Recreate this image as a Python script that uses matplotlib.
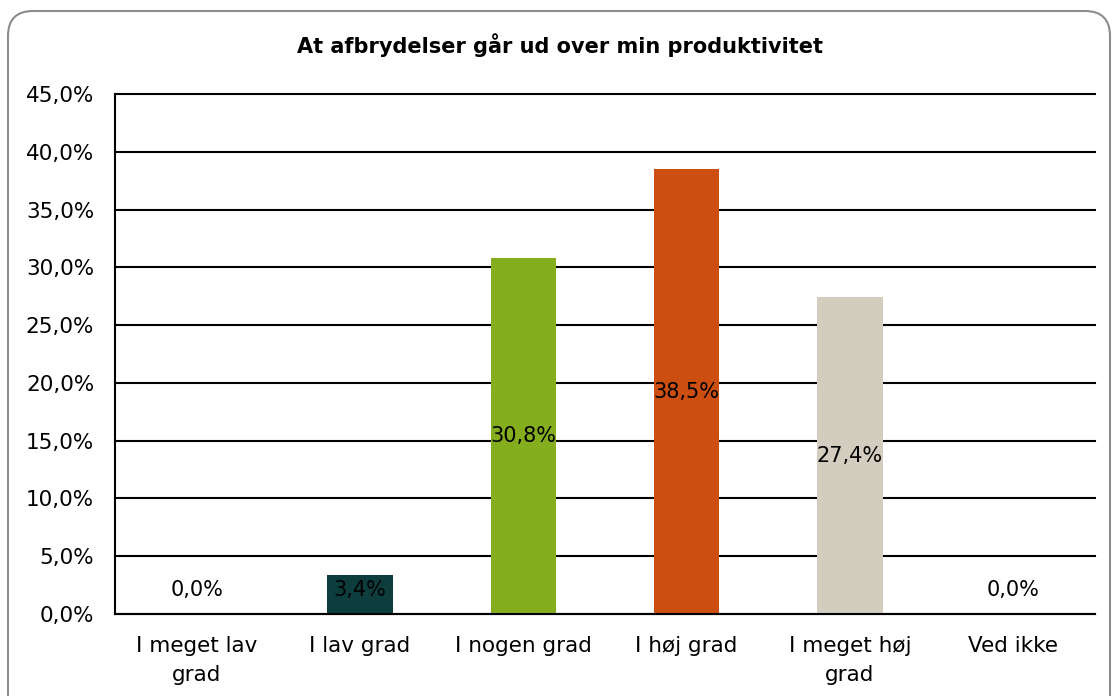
import matplotlib.pyplot as plt
from matplotlib.patches import FancyBboxPatch

categories = ['I meget lav\ngrad', 'I lav grad', 'I nogen grad', 'I høj grad',
              'I meget høj\ngrad', 'Ved ikke']
values = [0.0, 3.4, 30.8, 38.5, 27.4, 0.0]
labels = ['0,0%', '3,4%', '30,8%', '38,5%', '27,4%', '0,0%']
colors = ['#FFFFFF', '#0D3D3D', '#84AE1E', '#CC4E11', '#D3CDC0', '#FFFFFF']
yticks = [0, 5, 10, 15, 20, 25, 30, 35, 40, 45]
ytick_labels = ['0,0%', '5,0%', '10,0%', '15,0%', '20,0%', '25,0%',
                '30,0%', '35,0%', '40,0%', '45,0%']
title = 'At afbrydelser går ud over min produktivitet'

plt.rcParams['font.family'] = ['DejaVu Sans']

fig = plt.figure(figsize=(11.13, 6.96), dpi=100)

# rounded frame around the chart
frame = FancyBboxPatch((0.08, -0.3), 11.02, 7.15,
                       boxstyle='round,pad=0,rounding_size=0.25',
                       transform=fig.dpi_scale_trans,
                       facecolor='white', edgecolor='#8c8c8c', linewidth=1.5,
                       zorder=-5)
fig.patches.append(frame)

ax = fig.add_axes([115 / 1113, 1 - 614 / 696, 980 / 1113, 520 / 696])
ax.set_facecolor('none')
ax.set_zorder(2)

x = range(len(categories))
ax.bar(x, values, width=0.4, color=colors, zorder=2)

for i, (v, lab) in enumerate(zip(values, labels)):
    ypos = max(v / 2, 2.05)
    ax.text(i, ypos, lab, ha='center', va='center', fontsize=15,
            color='black', zorder=3)

ax.set_xlim(-0.5, len(categories) - 0.5)
ax.set_ylim(0, 45)
ax.set_yticks(yticks)
ax.set_yticklabels(ytick_labels, fontsize=15.5)
ax.set_xticks(list(x))
ax.set_xticklabels(categories, fontsize=15.5, linespacing=1.55)
ax.tick_params(axis='both', length=0)
ax.tick_params(axis='y', pad=15)
ax.tick_params(axis='x', pad=16)

ax.grid(axis='y', color='black', linewidth=1.5, zorder=1)
for gl in ax.get_ygridlines():
    gl.set_clip_on(False)
ax.set_axisbelow(True)
for side in ['top', 'right']:
    ax.spines[side].set_visible(False)
ax.spines['left'].set_linewidth(1.5)
ax.spines['bottom'].set_linewidth(1.5)

fig.text(0.503, 1 - 45 / 696, title, ha='center', va='center',
         fontsize=15, fontweight='bold')

fig.savefig('out.png', dpi=100)
